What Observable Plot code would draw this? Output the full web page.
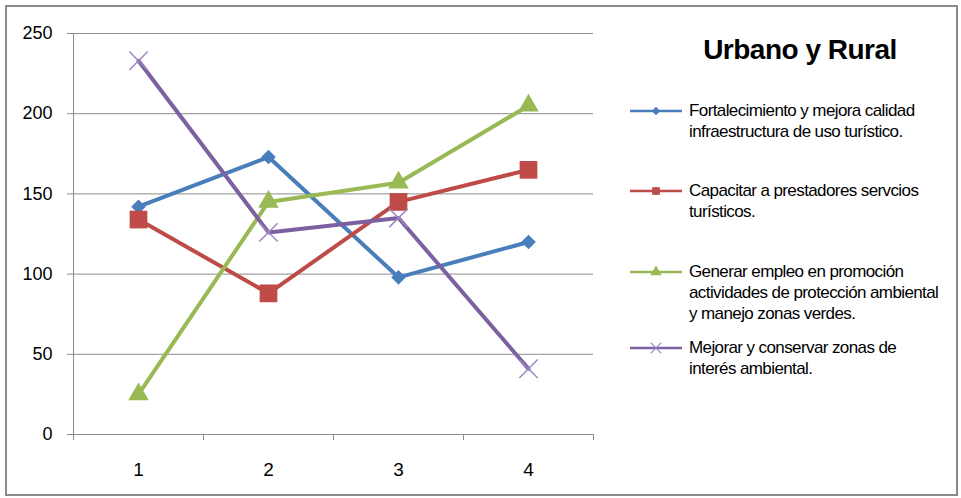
<!DOCTYPE html>
<html><head><meta charset="utf-8">
<script src="https://cdn.jsdelivr.net/npm/d3@7"></script>
<script src="https://cdn.jsdelivr.net/npm/@observablehq/plot@0.6"></script>
<style>
body{margin:0;background:#fff;font-family:"Liberation Sans",Arial,sans-serif;}
#wrap{position:relative;width:961px;height:498px;overflow:hidden;}
#wrap svg.plot{position:absolute;left:0;top:0;}
#frame{position:absolute;left:5px;top:5px;width:949px;height:487px;border:2px solid #8a8a8a;pointer-events:none;}
#title{position:absolute;left:645px;width:310px;top:34px;text-align:center;font-weight:bold;font-size:28px;color:#000;letter-spacing:-0.5px;}
.item{position:absolute;left:630px;display:flex;align-items:flex-start;}
.item svg{flex:none;margin-top:0px;}
.item .lbl{margin-left:7px;font-size:17px;line-height:21px;letter-spacing:-0.6px;color:#000;white-space:pre;}
</style></head>
<body>
<div id="wrap"><div id="chart"></div><div id="title">Urbano y Rural</div><div id="legend"></div><div id="frame"></div></div>
<script>
const categories = [1, 2, 3, 4];
const seriesNames = [
  "Fortalecimiento y mejora calidad\ninfraestructura de uso turístico.",
  "Capacitar a prestadores servcios\nturísticos.",
  "Generar empleo en promoción\nactividades de protección ambiental\ny manejo zonas verdes.",
  "Mejorar y conservar zonas de\ninterés ambiental."
];
const fortalecimiento = [142, 173, 98, 120];
const capacitar = [134, 88, 145, 165];
const generar = [25, 145, 157, 205];
const mejorar = [233, 126, 135, 41];
const yTicks = [0, 50, 100, 150, 200, 250];
const seriesColors = ["#4a7ebb", "#be4b48", "#98b954", "#7d60a0"];
const markerFill = ["#4a7ebb", "#be4b48", "#98b954", "none"];
const markerStroke = ["none", "none", "none", "#9d86c2"];

const values = [fortalecimiento, capacitar, generar, mejorar];
const symbols = [d3.symbolDiamond2, d3.symbolSquare, d3.symbolTriangle, d3.symbolTimes];
const markerR = [6.6, 10, 7.6, 8.4];
const legendTops = [100, 180, 261, 337];

const edges = categories.map(c => c - 0.5).concat([categories[categories.length - 1] + 0.5]);

const marks = [
  Plot.gridY(yTicks.slice(1), {stroke: "#8c8c8c", strokeOpacity: 1}),
  Plot.axisY(yTicks, {tickSize: 6, tickPadding: 15, fontSize: 18, stroke: "#8c8c8c", fill: "#000", label: null, tickFormat: "d"}),
  Plot.axisX(edges, {tickSize: 6, tickFormat: () => "", stroke: "#8c8c8c", label: null}),
  Plot.axisX(categories, {tickSize: 0, tickPadding: 28, fontSize: 19, fill: "#000", label: null, tickFormat: "d"}),
  Plot.ruleX([edges[0]], {y1: 0, y2: 250, stroke: "#8c8c8c"}),
  Plot.ruleY([0], {stroke: "#8c8c8c"})
];
values.forEach((vals, i) => {
  const data = categories.map((c, j) => ({cat: c, value: vals[j]}));
  marks.push(Plot.line(data, {x: "cat", y: "value", stroke: seriesColors[i], strokeWidth: 4}));
  marks.push(Plot.dot(data, {x: "cat", y: "value", symbol: symbols[i], r: markerR[i],
    fill: markerFill[i], stroke: markerStroke[i], strokeWidth: 1.5}));
});

const chart = Plot.plot({
  width: 961, height: 498,
  marginLeft: 73, marginRight: 368, marginTop: 33, marginBottom: 64,
  style: {fontFamily: "'Liberation Sans', Arial, sans-serif", background: "transparent"},
  x: {domain: [edges[0], edges[edges.length - 1]], axis: null},
  y: {domain: [0, 250], axis: null},
  marks
});
chart.classList.add("plot");
document.getElementById("chart").appendChild(chart);

const legend = document.getElementById("legend");
seriesNames.forEach((name, i) => {
  const item = document.createElement("div");
  item.className = "item";
  item.style.top = legendTops[i] + "px";
  const svg = d3.create("svg").attr("width", 52).attr("height", 21);
  svg.append("line").attr("x1", 0).attr("x2", 52).attr("y1", 11).attr("y2", 11)
    .attr("stroke", seriesColors[i]).attr("stroke-width", 2.5);
  svg.append("path").attr("transform", "translate(26,11)")
    .attr("d", d3.symbol(symbols[i], [45, 60, 55, 70][i])())
    .attr("fill", markerFill[i]).attr("stroke", markerStroke[i]).attr("stroke-width", 1.2);
  item.appendChild(svg.node());
  const lbl = document.createElement("div");
  lbl.className = "lbl";
  lbl.textContent = name;
  item.appendChild(lbl);
  legend.appendChild(item);
});
</script>
</body></html>
